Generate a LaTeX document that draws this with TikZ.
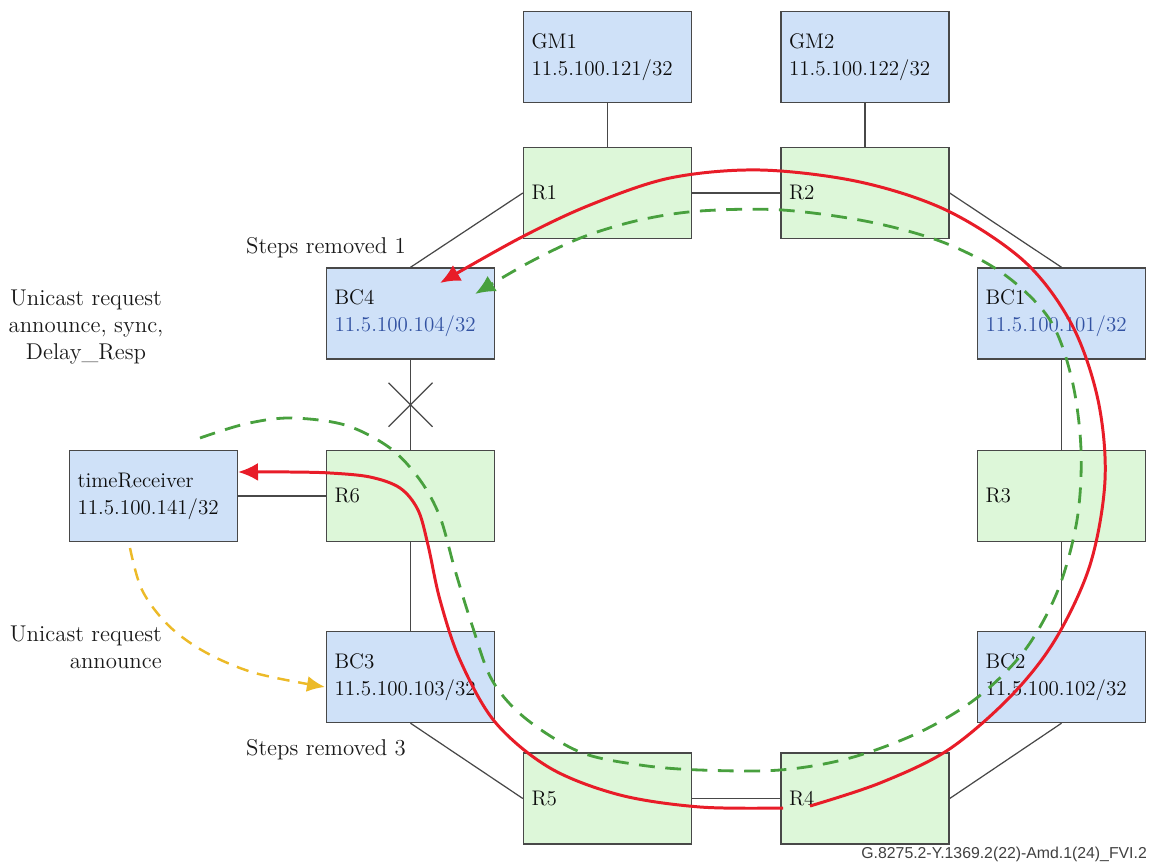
\documentclass[tikz,border=0pt]{standalone}
\usepackage{fontspec}
\newfontfamily\figfont{Liberation Sans}
\usetikzlibrary{arrows.meta}

\definecolor{nodeblue}{RGB}{207,225,248}
\definecolor{nodegreen}{RGB}{221,247,217}
\definecolor{edgegray}{RGB}{72,72,72}
\definecolor{ipblue}{RGB}{50,82,162}
\definecolor{pathred}{RGB}{232,28,40}
\definecolor{pathgreen}{RGB}{72,160,62}
\definecolor{pathyellow}{RGB}{236,186,40}

\tikzset{
  box/.style={draw=edgegray, line width=.8pt, minimum height=1.82cm, text width=3.04cm,
    inner xsep=.16cm, align=left, font=\fontsize{12}{15.4}\selectfont, text=black!95},
  clockbox/.style={box, fill=nodeblue},
  routerbox/.style={box, fill=nodegreen},
  link/.style={draw=edgegray, line width=.7pt},
  lbl/.style={font=\fontsize{13}{15.4}\selectfont, text=black!90},
  redpath/.style={draw=pathred, line width=1.7pt, -{Latex[length=.4cm,width=.36cm]}},
  greenpath/.style={draw=pathgreen, line width=1.6pt, dash pattern=on 9pt off 6pt,
    -{Latex[length=.4cm,width=.36cm]}},
  yellowpath/.style={draw=pathyellow, line width=1.4pt, dash pattern=on 7pt off 5pt,
    -{Latex[length=.36cm,width=.32cm]}}
}

\begin{document}
\begin{tikzpicture}[x=0.02cm, y=-0.02cm]
  \useasboundingbox (0,0) rectangle (1151,864);

  % clocks and routers
  \node[clockbox] (GM1) at (607.5,57) {GM1\\11.5.100.121/32};
  \node[clockbox] (GM2) at (865,57) {GM2\\11.5.100.122/32};
  \node[routerbox] (R1) at (607.5,193) {R1};
  \node[routerbox] (R2) at (865,193) {R2};
  \node[clockbox] (BC4) at (410.5,313.5) {BC4\\\textcolor{ipblue}{11.5.100.104/32}};
  \node[clockbox] (BC1) at (1061.5,313.5) {BC1\\\textcolor{ipblue}{11.5.100.101/32}};
  \node[clockbox] (TR) at (153.5,496) {timeReceiver\\11.5.100.141/32};
  \node[routerbox] (R6) at (410.5,496) {R6};
  \node[routerbox] (R3) at (1061.5,496) {R3};
  \node[clockbox] (BC3) at (410.5,677) {BC3\\11.5.100.103/32};
  \node[clockbox] (BC2) at (1061.5,677) {BC2\\11.5.100.102/32};
  \node[routerbox] (R5) at (607.5,798.5) {R5};
  \node[routerbox] (R4) at (865,798.5) {R4};

  % links
  \draw[link] (GM1.south) -- (R1.north);
  \draw[link] (GM2.south) -- (R2.north);
  \draw[link] (R1.east) -- (R2.west);
  \draw[link] (R1.west) -- (BC4.north);
  \draw[link] (R2.east) -- (BC1.north);
  \draw[link] (BC4.south) -- (R6.north) coordinate[midway] (cut);
  \draw[link] (cut) ++(-22,-22) -- ++(44,44);
  \draw[link] (cut) ++(22,-22) -- ++(-44,44);
  \draw[link] (BC1.south) -- (R3.north);
  \draw[link] (TR.east) -- (R6.west);
  \draw[link] (R6.south) -- (BC3.north);
  \draw[link] (R3.south) -- (BC2.north);
  \draw[link] (BC3.south) -- (R5.west);
  \draw[link] (BC2.south) -- (R4.east);
  \draw[link] (R5.east) -- (R4.west);

  % labels
  \node[lbl] (sr1) at (326,248) {Steps removed 1};
  \node[lbl, align=center] (req1) at (86,327) {Unicast request\\announce, sync,\\Delay\_Resp};
  \node[lbl, align=right, anchor=east] (req2) at (168,647) {Unicast request\\announce};
  \node[lbl] (sr3) at (326,750) {Steps removed 3};
  \node[anchor=east, font=\figfont\fontsize{9}{10}\selectfont, text=black!75] (figid)
    at (1153,854) {G.8275.2-Y.1369.2(22)-Amd.1(24)\_FVI.2};

  % path ends
  \coordinate (r4right) at (810,806);
  \coordinate (r4left) at (783,808);
  \coordinate (bc4red) at (440,283);
  \coordinate (bc4green) at (475,294);
  \coordinate (trred) at (238,472);
  \coordinate (greenstart) at (200,438);
  \coordinate (yellowstart) at (130,548);
  \coordinate (bc3yellow) at (325,687);

  % timing paths
  \draw[redpath] plot[smooth, tension=.55] coordinates {(r4right) (880,783) (948,750)
    (1010,697) (1055,640) (1090,565) (1105,480) (1098,400) (1072,325) (1025,262)
    (948,211) (860,182) (760,170) (670,178) (590,205) (520,238) (bc4red)};
  \draw[redpath] plot[smooth, tension=.55] coordinates {(r4left) (700,807) (620,795)
    (550,768) (495,722) (460,660) (440,600) (428,545) (418,510) (400,488) (370,477)
    (330,473) (290,472) (trred)};
  \draw[greenpath] plot[smooth, tension=.55] coordinates {(greenstart) (245,424) (290,418)
    (345,425) (390,448) (420,480) (440,517) (455,570) (472,625) (492,680) (525,718)
    (580,752) (640,765) (700,770) (780,770) (850,758) (920,732) (978,697) (1025,650)
    (1058,590) (1077,520) (1081,450) (1072,380) (1050,320) (1005,275) (945,243)
    (870,222) (782,210) (700,211) (640,220) (583,237) (530,262) (bc4green)};
  \draw[yellowpath] plot[smooth, tension=.55] coordinates {(yellowstart) (142,590)
    (168,625) (205,652) (255,673) (bc3yellow)};
\end{tikzpicture}
\end{document}
